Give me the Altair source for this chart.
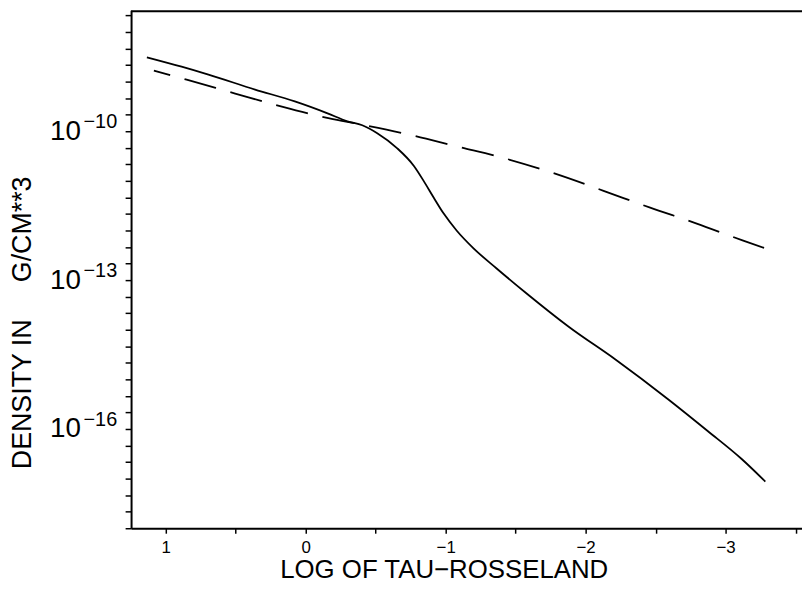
import altair as alt
import pandas as pd

# log10(tau_Rosseland) and log10(density [g/cm^3])
x_solid = [1.135, 0.887, 0.695, 0.362, 0.078, -0.156, -0.298, -0.404, -0.511, -0.652,
           -0.773, -0.851, -0.915, -0.986, -1.078, -1.199, -1.362, -1.574, -1.879,
           -2.213, -2.589, -2.872, -3.113, -3.284]
logrho_solid = [-8.51, -8.70, -8.86, -9.16, -9.40, -9.64, -9.80, -9.88, -10.04, -10.34,
                -10.70, -11.04, -11.34, -11.66, -12.00, -12.36, -12.76, -13.26, -13.94,
                -14.60, -15.40, -16.04, -16.60, -17.06]

x_dashed = [1.085, 0.851, 0.504, 0.177, -0.170, -0.390, -0.759, -1.099, -1.362,
            -1.787, -2.128, -2.461, -2.794, -3.121, -3.305]
logrho_dashed = [-8.78, -8.96, -9.24, -9.50, -9.74, -9.86, -10.08, -10.32, -10.50,
                 -10.86, -11.20, -11.54, -11.86, -12.20, -12.38]

x_ticks = [1, 0.5, 0, -0.5, -1, -1.5, -2, -2.5, -3, -3.5]
y_tick_exps = [-18 + k / 3 for k in range(32)]
y_label_exps = [-10, -13, -16]
y_label_texts = ["\u221210", "\u221213", "\u221216"]

W, H = 676, 522
FONT = "Liberation Sans"

solid = pd.DataFrame({"logtau": x_solid, "density": [10 ** v for v in logrho_solid]})
dashed = pd.DataFrame({"logtau": x_dashed, "density": [10 ** v for v in logrho_dashed]})
exps = pd.DataFrame({"density": [10 ** e for e in y_label_exps], "txt": y_label_texts})

xenc = alt.X(
    "logtau:Q",
    scale=alt.Scale(domain=[1.248, -3.546], nice=False, zero=False),
    axis=alt.Axis(
        values=x_ticks,
        labelExpr="datum.value % 1 == 0 ? format(datum.value, 'd') : ''",
        title="LOG OF TAU\u2212ROSSELAND",
        titleFont=FONT, titleFontSize=26, titleFontWeight="normal", titleColor="black",
        titleX=315, titleY=50, titleAlign="center", titleBaseline="alphabetic",
        labelFont=FONT, labelFontSize=17, labelColor="black", labelPadding=6,
        tickSize=5, tickColor="black", tickWidth=1.5,
        domainColor="black", domainWidth=2, grid=False,
    ),
)

label_expr = (
    "abs(log(datum.value)/LN10 + 10) < 0.01 || abs(log(datum.value)/LN10 + 13) < 0.01 || "
    "abs(log(datum.value)/LN10 + 16) < 0.01 ? '10' : ''"
)

yscale = alt.Scale(type="log", domain=[1e-18, 10 ** -7.56], nice=False)

yenc = alt.Y(
    "density:Q",
    scale=yscale,
    axis=alt.Axis(
        values=[10 ** e for e in y_tick_exps],
        labelExpr=label_expr,
        title="DENSITY IN\u00a0\u00a0\u00a0\u00a0\u00a0G/CM**3",
        titleFont=FONT, titleFontSize=27, titleFontWeight="normal", titleColor="black",
        titleX=-109, titleY=462, titleAlign="left", titleBaseline="middle", titleAngle=-90,
        labelFont=FONT, labelFontSize=28, labelColor="black", labelPadding=45,
        tickSize=6, tickColor="black", tickWidth=1.5,
        domainColor="black", domainWidth=2, grid=False,
    ),
)

solid_line = alt.Chart(solid).mark_line(
    color="black", strokeWidth=1.8, interpolate="monotone"
).encode(x=xenc, y=yenc)
dashed_line = alt.Chart(dashed).mark_line(
    color="black", strokeWidth=1.8, strokeDash=[33, 15], strokeDashOffset=16,
    interpolate="monotone"
).encode(x=xenc, y=yenc)

exp_text = alt.Chart(exps).mark_text(
    font=FONT, fontSize=20, color="black", align="right", baseline="alphabetic",
    dy=-3, clip=False
).encode(x=alt.value(-14), y=alt.Y("density:Q", scale=yscale), text="txt:N")

top_frame = alt.Chart(pd.DataFrame({"a": [0]})).mark_rule(color="black", strokeWidth=2).encode(
    x=alt.value(0), x2=alt.value(W), y=alt.value(1)
)

chart = (
    alt.layer(solid_line, dashed_line, exp_text, top_frame)
    .properties(
        width=W, height=H,
        autosize=alt.AutoSizeParams(type="none"),
        padding={"left": 124, "top": 0, "right": 0, "bottom": 52},
        background="white",
    )
    .configure_view(stroke=None)
)

chart.save("out.html", embed_options={"renderer": "svg", "actions": False})
